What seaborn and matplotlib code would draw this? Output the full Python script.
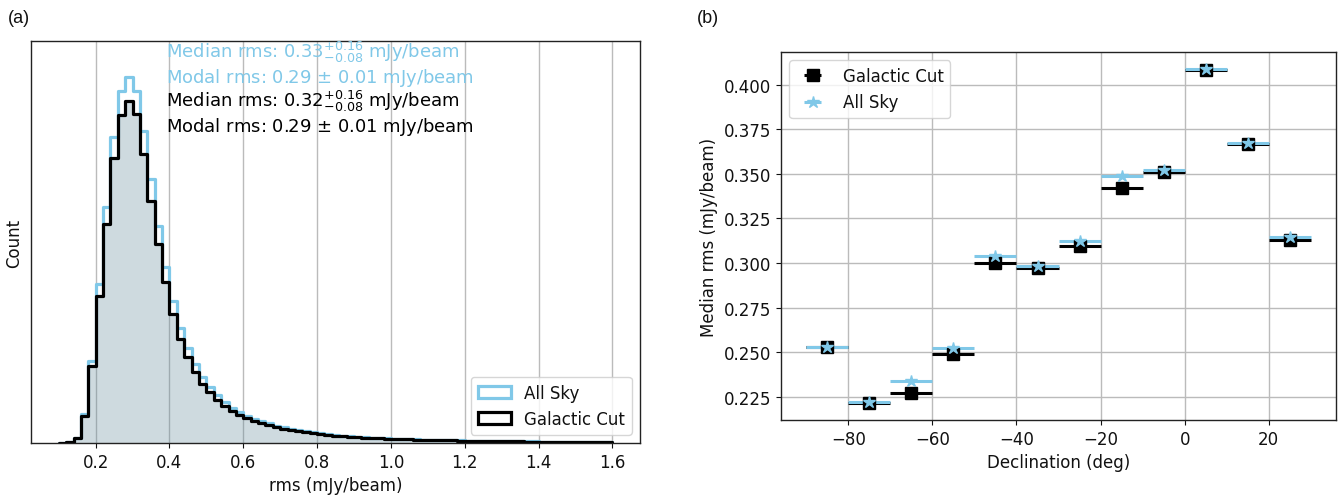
import numpy as np
import pandas as pd
import matplotlib
matplotlib.use("Agg")
import matplotlib.pyplot as plt
from matplotlib.patches import Patch
import seaborn as sns

# ---------------- data ----------------
# rms histogram: 75 bins of 0.02 mJy/beam between 0.10 and 1.60 (counts in hundreds)
rms_range = (0.10, 1.60)
n_bins = 75

galactic_cut_counts = [
    0.5, 1.3, 4.7, 26.7, 76.7, 147, 219, 285, 328, 342,
    329, 289, 242, 199, 161, 129, 104, 86, 71, 59,
    51, 43, 37, 32, 28.5, 25, 22, 20, 18, 16,
    14.5, 13, 11.8, 10.7, 9.8, 9, 8.2, 7.5, 6.9, 6.4,
    5.9, 5.5, 5.1, 4.8, 4.5, 4.2, 3.9, 3.7, 3.5, 3.3,
    3.1, 2.9, 2.7, 2.6, 2.4, 2.3, 2.2, 2.1, 2.0, 1.9,
    1.8, 1.7, 1.6, 1.5, 1.45, 1.4, 1.3, 1.25, 1.2, 1.1,
    1.05, 1.0, 0.95, 0.9, 0.85,
]
all_sky_counts = [
    0.5, 1.4, 5, 29, 82, 159, 236, 306, 352, 366,
    352, 312, 264, 217, 176, 142, 115, 95, 79, 66,
    56, 48, 41, 35.5, 31, 27.3, 24, 21.8, 19.6, 17.4,
    15.7, 14.1, 12.8, 11.6, 10.6, 9.7, 8.8, 8.1, 7.4, 6.9,
    6.3, 5.9, 5.5, 5.1, 4.8, 4.5, 4.2, 3.9, 3.7, 3.5,
    3.3, 3.1, 2.9, 2.8, 2.6, 2.45, 2.35, 2.2, 2.1, 2.0,
    1.9, 1.8, 1.7, 1.6, 1.55, 1.5, 1.4, 1.33, 1.27, 1.2,
    1.12, 1.06, 1.0, 0.95, 0.9,
]

# Median rms per 10-degree declination strip
dec_centres = [-85, -75, -65, -55, -45, -35, -25, -15, -5, 5, 15, 25]
dec_half_width = 5
median_galactic_cut = [0.2530, 0.2215, 0.2272, 0.2491, 0.3003, 0.2975,
                       0.3094, 0.3422, 0.3510, 0.4082, 0.3665, 0.3130]
median_all_sky = [0.2532, 0.2220, 0.2339, 0.2522, 0.3041, 0.2984,
                  0.3124, 0.3488, 0.3522, 0.4086, 0.3672, 0.3146]

# ---------------- style ----------------
sns.set_theme(style="ticks")
plt.rcParams.update({
    "font.family": ["DejaVu Sans"],
    "font.size": 12,
    "axes.edgecolor": "#222222",
    "axes.linewidth": 1.0,
    "xtick.labelsize": 12,
    "ytick.labelsize": 12,
    "axes.labelsize": 12,
    "legend.fontsize": 12,
    "text.color": "#111111",
    "axes.labelcolor": "#111111",
    "xtick.color": "#111111",
    "ytick.color": "#111111",
    "xtick.major.size": 3.5,
    "ytick.major.size": 3.5,
    "xtick.major.width": 0.8,
    "ytick.major.width": 0.8,
})

SKY = "#80c8e8"
FILL = "#5f8798"

fig = plt.figure(figsize=(13.39, 5.02), dpi=100)
ax1 = fig.add_axes([0.0232, 0.1155, 0.4548, 0.8008])
ax2 = fig.add_axes([0.5833, 0.1614, 0.4145, 0.7330])

# ---------------- (a) rms histogram ----------------
edges = np.linspace(rms_range[0], rms_range[1], n_bins + 1)
hist_df = pd.DataFrame({
    "rms": (edges[:-1] + edges[1:]) / 2,
    "galactic_cut": np.array(galactic_cut_counts) * 100,
    "all_sky": np.array(all_sky_counts) * 100,
})
hist_kws = dict(data=hist_df, x="rms", bins=n_bins, binrange=rms_range,
                element="step", ax=ax1)
sns.histplot(weights="galactic_cut", fill=True, color=FILL, alpha=0.3,
             linewidth=0, **hist_kws)
sns.histplot(weights="all_sky", fill=False, color=SKY, linewidth=2.3, **hist_kws)
sns.histplot(weights="galactic_cut", fill=False, color="black", linewidth=2.3,
             **hist_kws)

ax1.set_xlim(0.025, 1.675)
ax1.set_ylim(0, 40200)
ax1.set_yticks([])
ax1.set_xticks([0.2, 0.4, 0.6, 0.8, 1.0, 1.2, 1.4, 1.6])
ax1.grid(axis="x", color="#bbbbbb", linewidth=1.0)
ax1.grid(axis="y", visible=False)
ax1.set_axisbelow(True)
ax1.set_xlabel("rms (mJy/beam)")
ax1.set_ylabel("Count", labelpad=6)

tr = ax1.get_xaxis_transform()
note_kws = dict(transform=tr, va="center", ha="left", fontsize=13)
ax1.text(0.39, 0.973, r"Median rms: $0.33^{+0.16}_{-0.08}$ mJy/beam",
         color=SKY, **note_kws)
ax1.text(0.39, 0.910, r"Modal rms: 0.29 $\pm$ 0.01 mJy/beam",
         color=SKY, **note_kws)
ax1.text(0.39, 0.853, r"Median rms: $0.32^{+0.16}_{-0.08}$ mJy/beam",
         color="black", **note_kws)
ax1.text(0.39, 0.789, r"Modal rms: 0.29 $\pm$ 0.01 mJy/beam",
         color="black", **note_kws)

handles = [Patch(facecolor="white", edgecolor=SKY, linewidth=2.3, label="All Sky"),
           Patch(facecolor="white", edgecolor="black", linewidth=2.3, label="Galactic Cut")]
ax1.legend(handles=handles, loc="lower right", frameon=True, framealpha=0.8)

# ---------------- (b) median rms vs declination ----------------
ax2.errorbar(dec_centres, median_galactic_cut, xerr=dec_half_width, fmt="s",
             color="black", ms=8, elinewidth=2.2, capsize=0, label="Galactic Cut")
ax2.errorbar(dec_centres, median_all_sky, xerr=dec_half_width, fmt="*",
             color=SKY, ms=9, elinewidth=2.2, capsize=0, label="All Sky")
ax2.set_xlim(-96, 36)
ax2.set_ylim(0.2121, 0.4182)
ax2.set_xticks([-80, -60, -40, -20, 0, 20])
ax2.set_yticks([0.225, 0.250, 0.275, 0.300, 0.325, 0.350, 0.375, 0.400])
ax2.set_yticklabels([f"{v:.3f}" for v in ax2.get_yticks()])
ax2.grid(True, color="#bbbbbb", linewidth=1.0)
ax2.set_axisbelow(True)
ax2.set_xlabel("Declination (deg)")
ax2.set_ylabel("Median rms (mJy/beam)")
ax2.legend(loc="upper left", frameon=True, framealpha=0.8)

for ax in (ax1, ax2):
    for s in ax.spines.values():
        s.set_visible(True)

fig.text(0.006, 0.963, "(a)", fontsize=13, family=["Liberation Sans"], va="center")
fig.text(0.5205, 0.963, "(b)", fontsize=13, family=["Liberation Sans"], va="center")

fig.savefig("out.png", dpi=100)
